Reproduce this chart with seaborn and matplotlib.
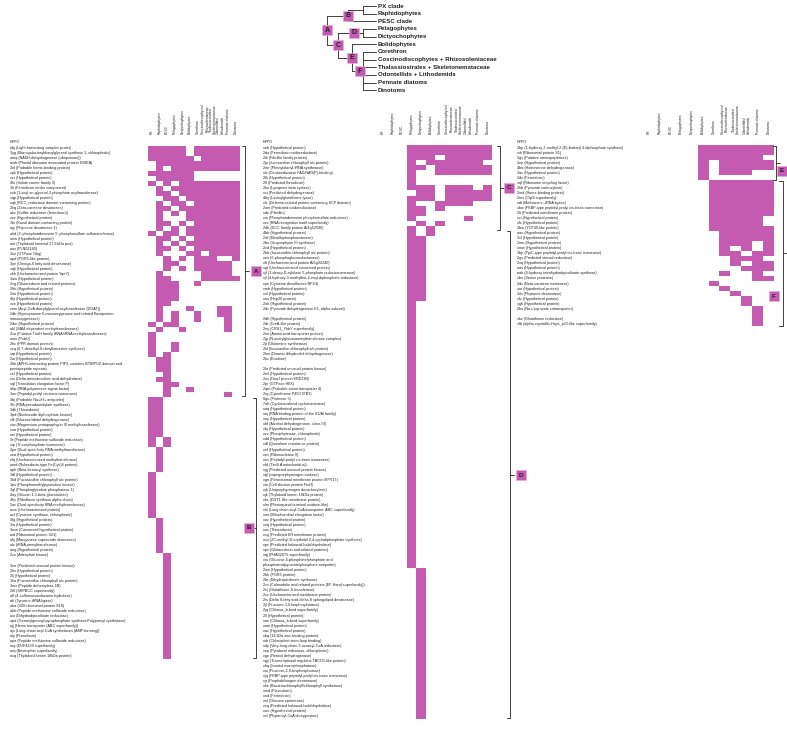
import numpy as np
import pandas as pd
import matplotlib
matplotlib.use("Agg")
import matplotlib.pyplot as plt
import seaborn as sns
from matplotlib.colors import ListedColormap
from matplotlib.transforms import blended_transform_factory

# ---------------- data ----------------
clades = ["PX", "Raphidophytes", "PESC", "Pelagophytes", "Dictyochophytes",
          "Bolidophytes", "Corethron", "Coscinodiscophytes/\nRhizosoleniaceae",
          "Thalassiosirales/\nSkeletonemataceae", "Odontellids/\nLithodemids",
          "Pennate diatoms", "Dinotoms"]

tree_leaves = ["PX clade", "Raphidophytes", "PESC clade", "Pelagophytes",
               "Dictyochophytes", "Bolidophytes", "Corethron",
               "Coscinodiscophytes + Rhizosoleniaceae",
               "Thalassiosirales + Skeletonemataceae",
               "Odontellids + Lithodemids", "Pennate diatoms", "Dinotoms"]

# (node, children, x of vertical line, x of label box, letter)
tree_nodes = [
    ("pr", ["PX clade", "Raphidophytes"], 363, None, ""),
    ("B", ["pr", "PESC clade"], 348, 348, "B"),
    ("D", ["Pelagophytes", "Dictyochophytes"], 363, 354, "D"),
    ("F", ["Corethron", "Coscinodiscophytes + Rhizosoleniaceae",
           "Thalassiosirales + Skeletonemataceae", "Odontellids + Lithodemids",
           "Pennate diatoms", "Dinotoms"], 363, 360, "F"),
    ("E", ["Bolidophytes", "F"], 352, 352, "E"),
    ("C", ["D", "E"], 338, 338, "C"),
    ("A", ["B", "C"], 327, 327, "A"),
]

p1_genes = [
    "abj (Light-harvesting complex protei)",
    "3yg (Monogalactosyldiacylglycerol synthase 1, chloroplastic)",
    "amq (NADH-dehydrogenase (ubiquinone))",
    "amb (Plastid ribosome associated protein 830EA)",
    "3ol (Probable heme-binding protein)",
    "xpk (Hypothetical protein)",
    "xcr (Hypothetical protein)",
    "4hi (Solute carrier family 3)",
    "3it (Ferredoxin rieske component)",
    "zxb (1-acyl-sn-glycerol-3-phosphate acyltransferase)",
    "xqp (Hypothetical protein)",
    "xqk (RCC_reductase domain-containing protein)",
    "2kq (Zeta-carotene desaturase)",
    "akc (Sulfite reductase (ferredoxin))",
    "xzv (Hypothetical protein)",
    "3kr (Kazal domain containing protein)",
    "ajy (Phytoene desaturase 1)",
    "akd (3'-phosphoadenosine 5'-phosphosulfate sulfotransferase)",
    "anw (Hypothetical protein)",
    "ant (Thylakoid lumenal 17.9 kDa prot)",
    "aox (PLN02160)",
    "3oz (GTPase Obg)",
    "apd (PGR5-like protein)",
    "3ye (Omega-6 fatty acid desaturase)",
    "xqk (Hypothetical protein)",
    "zkh (Uncharacterized protein YqeY)",
    "3aw (Hypothetical protein)",
    "2cg (Glutaredoxin and related proteins)",
    "2hh (Hypothetical protein)",
    "2im (Hypothetical protein)",
    "4fy (Hypothetical protein)",
    "xce (Hypothetical protein)",
    "zom (Acyl-CoA:diacylglycerol acyltransferase (DGAT))",
    "2db (Hyoscyamine 6-monooxygenase and related flavoprotein",
    "monooxygenases)",
    "2dm (Hypothetical protein)",
    "akl (SAM-dependent methyltransferases)",
    "2co (Putative TrmH family tRNA/rRNA methyltransferases)",
    "amo (PsbU)",
    "2hc (PPR domain protein)",
    "xcq (6,7-dimethyl-8-ribityllumazine synthase)",
    "xqt (Hypothetical protein)",
    "2ai (Hypothetical protein)",
    "2bk (APH1-interacting protein PIP3, contains BTB/POZ domain and",
    "pentapeptide repeats)",
    "xcf (Hypothetical protein)",
    "zin (Delta-aminolevulinic acid dehydratase)",
    "xql (Translation elongation factor P)",
    "ahp (RNA polymerase sigma factor)",
    "3an (Peptidyl-prolyl cis-trans isomerase)",
    "3bj (Probable Na+/H+ antiporter)",
    "3lv (RNA pseudouridylate synthase)",
    "3dk (Thioredoxin)",
    "3pd (Nucleoside diphosphate kinase)",
    "xlk (Glucose/ribitol dehydrogenase)",
    "xiw (Magnesium-protoporphyrin IX methyltransferase)",
    "xoa (Hypothetical protein)",
    "xei (Hypothetical protein)",
    "3r (Peptide methionine sulfoxide reductase)",
    "xip (Triosephosphate isomerase)",
    "2pe (Dual-specificity RNA methyltransferase)",
    "xea (Hypothetical protein)",
    "zfq (Uncharacterized methyltransferase)",
    "amd (Rubredoxin-type Fe(Cys)4 protein)",
    "aph (Beta-ketoacyl synthase)",
    "3dl (Hypothetical protein)",
    "3kd (Fucoxanthin chlorophyll a/c protein)",
    "3ps (Phosphomethylpyrimidine kinase)",
    "3ql (Phosphoglycolate phosphatase 1)",
    "4ay (Glucan 1,3-beta-glucosidase)",
    "4hc (Riboflavin synthase alpha chain)",
    "5ac (Dual-specificity RNA methyltransferase)",
    "acw (Uncharacterized protein)",
    "acl (Cysteine synthase, chloroplastic)",
    "3fg (Hypothetical protein)",
    "3io (Hypothetical protein)",
    "3mw (Conserved hypothetical protein)",
    "aid (Ribosomal protein S21)",
    "akj (Manganese superoxide dismutase)",
    "alc (tRNA prenyltransferase)",
    "ang (Hypothetical protein)",
    "2cs (Adenylate kinase)",
    "",
    "3ee (Predicted unusual protein kinase)",
    "2hx (Hypothetical protein)",
    "3lj (Hypothetical protein)",
    "3ka (Fucoxanthin chlorophyll a/c protein)",
    "3mx (Peptide deformylase 1B)",
    "2rll (SRPBCC superfamily)",
    "afl (4-sulfomuconolactone hydrolase)",
    "afi (Tyrosine-tRNA ligase)",
    "aha (30S ribosomal protein S18)",
    "ahb (Peptide methionine sulfoxide reductase)",
    "aio (Dihydrodipicolinate reductase)",
    "apd (Geranylgeranyl pyrophosphate synthase/Polyprenyl synthetase)",
    "ajj (Heme transporter (ABC superfamily))",
    "ajx (Long-chain acyl-CoA synthetases (AMP-forming))",
    "aly (Prenelosin)",
    "apa (Peptide methionine sulfoxide reductase)",
    "arg (DUF4239 superfamily)",
    "arq (Bestrophin superfamily)",
    "asq (Thylakoid lumen 18kDa protein)",
]

p1_presence = [
    "111110111111", "111110111111", "111111011111", "011111111111", "010111111111",
    "111111000000", "011111000000", "101011111111", "010111111111", "011011111111",
    "001101111111", "010110111111", "011011111111", "010101111111", "010001111111",
    "011010111111", "010101111111", "101101111111", "011010111111", "010101111111",
    "011010111111", "010001101111", "001010111001", "001100111110", "001010111110",
    "010000011110", "011000011111", "011100100000", "011100000000", "011100000000",
    "011100000000", "011000000000", "010001000110", "010100100110", "010100100010",
    "101100000010", "010010000010", "100000000000", "100000000000", "100100000000",
    "100100000000", "101000000000", "011000000000", "011000000000", "011000000000",
    "001000000000", "011000000000", "001100000000", "001001000000", "001000000010",
    "110000000000", "110000000000", "110000000000", "110000000000", "110000000000",
    "110000000000", "110000000000", "110000000000", "101000000000", "101000000000",
    "010000000000", "010000000000", "010000000000", "010000000000", "010000000000",
    "100000000000", "100000000000", "100000000000", "100000000000", "100000000000",
    "100000000000", "100000000000", "100000000000", "100000000000",
    "010000000000", "010000000000", "010000000000", "010000000000", "010000000000",
    "010000000000", "010000000000",
    "001000000000", "001000000000", "001000000000", "001000000000", "001000000000",
    "001000000000", "001000000000", "001000000000", "001000000000", "001000000000",
    "001000000000", "001000000000", "001000000000", "001000000000", "001000000000",
    "001000000000", "001000000000", "001000000000", "001000000000", "001000000000",
    "001000000000",
]

p2_genes = [
    "xeb (Hypothetical protein)",
    "2do (Ferredoxin oxidoreductase)",
    "2ik (Fibrillin family protein)",
    "2ja (fucoxanthin chlorophyll a/c protein)",
    "2mr (Phenylalanyl-tRNA synthetase)",
    "xlx (Oxidoreductase FAD/NAD(P)-binding)",
    "2fk (Hypothetical protein)",
    "2fl (Predicted flavodoxin)",
    "2kn (Lycopene beta cyclase)",
    "xcj (Predicted dehydrogenase)",
    "4by (Lactoylglutathione lyase)",
    "xlc (Defense-related protein containing SCP domain)",
    "2om (Predicted oxidoreductase)",
    "xde (Fibrillin)",
    "xin (Phosphoadenosine phosphosulfate reductase)",
    "xzv (RNA recognition motif superfamily)",
    "2dh (DCC family protein At1g52590)",
    "4bb (Hypothetical protein)",
    "2af (Metallophosphoesterase)",
    "2be (Uroporphyrin III synthase)",
    "2cd (Hypothetical protein)",
    "2hb (fucoxanthin chlorophyll a/c protein)",
    "xen (6-phosphogluconolactonase)",
    "xft (Uncharacterized protein At5g02240)",
    "xgt (Uncharacterized conserved protein)",
    "xjf (1-deoxy-D-xylulose 5-phosphate reductoisomerase)",
    "xjl (4-hydroxy-3-methylbut-2-enyl diphosphate reductase)",
    "xjm (Cysteine desulfurase NFS1)",
    "xmb (Hypothetical protein)",
    "xnl (Hypothetical protein)",
    "xau (Hsp20 protein)",
    "2ah (Hypothetical protein)",
    "2dc (Pyruvate dehydrogenase E1, alpha subunit)",
    "",
    "2dh (Hypothetical protein)",
    "2dr (CreA-like protein)",
    "2ey (CRS1_YhbY superfamily)",
    "2im (Amino acid transporter protein)",
    "2jp (N-acetylglucosaminyltransferase complex)",
    "2jt (Glutamine synthetase)",
    "2kl (fucoxanthin chlorophyll a/c protein)",
    "2km (Dimeric dihydrodiol dehydrogenase)",
    "2kc (Enolase)",
    "",
    "2la (Predicted unusual protein kinase)",
    "2ml (Hypothetical protein)",
    "2ns (DnaJ protein ERDJ3B)",
    "2pr (GTPase HflX)",
    "2qm (Probable anion transporter 4)",
    "2rg (Cytochrome P450 97B3)",
    "6gu (Protease 3)",
    "7ah (Cycloeucalenol cycloisomerase)",
    "xaq (Hypothetical protein)",
    "xaj (RNA binding protein of the S1/Al family)",
    "xay (Hypothetical protein)",
    "xbf (Alcohol dehydrogenase, class III)",
    "xbj (Hypothetical protein)",
    "xcv (Pheophytinase, chloroplastic)",
    "xdd (Hypothetical protein)",
    "xdl (Quinolone resistance protein)",
    "xef (Hypothetical protein)",
    "xev (Ribonuclease II)",
    "xex (Peptidyl-prolyl cis-trans isomerase)",
    "xfd (Tim9-A mitochondrial)",
    "xgj (Predicted unusual protein kinase)",
    "xgl (coproporphyrinogen oxidase)",
    "xgn (Peroxisomal membrane protein MPV17)",
    "xia (Cell division protein FtsH)",
    "xjh (Uroporphyrinogen decarboxylase)",
    "xjk (Thylakoid lumen 18kDa protein)",
    "xkc (DDT1-like membrane protein)",
    "xlm (Plastoquinol terminal oxidase-like)",
    "xln (Long chain acyl-CoA transporter, ABC superfamily)",
    "xmr (Mitochondrial elongation factor)",
    "xoc (Hypothetical protein)",
    "xoq (Hypothetical protein)",
    "xos (Thioredoxin)",
    "xsg (Predicted ER membrane protein)",
    "xsu (2C-methyl-D-erythritol 2,4-cyclodiphosphate synthase)",
    "xpc (Predicted haloacid-halidohydrolase)",
    "xpz (Glutaredoxin and related proteins)",
    "xqj (PHA02075 superfamily)",
    "xru (Glucose-6-phosphate/phosphate and",
    "phosphoenolpyruvate/phosphate antiporter)",
    "2aw (Hypothetical protein)",
    "2bh (PGR5 protein)",
    "2br (Dihydropicolinate synthase)",
    "2cs (Calmodulin and related proteins (EF-Hand superfamily))",
    "2cj (Glutathione S-transferase)",
    "2cz (Uncharacterized membrane protein)",
    "2is (Delta 8-fatty acid /delta-8 sphingolipid desaturase)",
    "2jl (Fructose-1,6-bisphosphatase)",
    "2jq (Chloroa_b-bind superfamily)",
    "2ll (Hypothetical protein)",
    "xae (Chloroa_b-bind superfamily)",
    "xam (Hypothetical protein)",
    "xac (Hypothetical protein)",
    "xbq (14 kDa zinc-binding protein)",
    "xdr (Chloroplast stem-loop binding)",
    "xdy (Very-long-chain 3-oxoacyl-CoA reductase)",
    "xep (Pyridoxal reductase, chloroplastic)",
    "xge (Retinol dehydrogenase)",
    "xgy (Transcriptional regulator TACO1-like protein)",
    "xhq (Inositol monophosphatase)",
    "xio (Fructose-1,6-bisphosphatase)",
    "xjq (FKBP-type peptidyl-prolyl cis-trans isomerase)",
    "xjr (Porphobilinogen deaminase)",
    "xke (Bacteriochlorophyll/chlorophyll synthetase)",
    "xmd (Flavodoxin)",
    "xnd (Ferredoxin)",
    "xnl (Glucose epimerase)",
    "xsq (Predicted haloacid-halidohydrolase)",
    "xwc (Hypothetical protein)",
    "xxl (Phytanoyl-CoA dioxygenase)",
]

p2_presence = [
    "000111111111", "000111111111", "000111011111", "000101111110", "000110111111",
    "000100111111", "000100000000", "000100000000", "000111011101", "000011011111",
    "000111011111", "000100111100", "000110100000", "000110000000", "000100000100",
    "000010100000", "000101000000",
    "000101000000",
    "000110000000", "000110000000", "000110000000", "000110000000", "000110000000",
    "000110000000", "000110000000", "000110000000", "000110000000", "000110000000",
    "000110000000", "000110000000", "000110000000",
    "000100000000", "000100000000", "000100000000", "000100000000", "000100000000",
    "000100000000", "000100000000", "000100000000", "000100000000", "000100000000",
    "000100000000", "000100000000", "000100000000", "000100000000", "000100000000",
    "000100000000", "000100000000", "000100000000", "000100000000", "000100000000",
    "000100000000", "000100000000", "000100000000", "000100000000", "000100000000",
    "000100000000", "000100000000", "000100000000", "000100000000", "000100000000",
    "000100000000", "000100000000", "000100000000", "000100000000", "000100000000",
    "000100000000", "000100000000", "000100000000", "000100000000", "000100000000",
    "000100000000", "000100000000", "000100000000", "000100000000", "000100000000",
    "000100000000", "000100000000", "000100000000", "000100000000", "000100000000",
    "000100000000", "000100000000", "000100000000",
    "000010000000", "000010000000", "000010000000", "000010000000", "000010000000",
    "000010000000", "000010000000", "000010000000", "000010000000", "000010000000",
    "000010000000", "000010000000", "000010000000", "000010000000", "000010000000",
    "000010000000", "000010000000", "000010000000", "000010000000", "000010000000",
    "000010000000", "000010000000", "000010000000", "000010000000", "000010000000",
    "000010000000", "000010000000", "000010000000", "000010000000", "000010000000",
]

p3_genes = [
    "2bp (1-hydroxy-2-methyl-2-(E)-butenyl 4-diphosphate synthase)",
    "xih (Ribosomal protein S1)",
    "2gs (Putative aminopeptidase)",
    "2ep (Hypothetical protein)",
    "4ba (Homoserine dehydrogenase)",
    "3ac (Hypothetical protein)",
    "2dv (Ferredoxin)",
    "xqf (Ribosome recycling factor)",
    "2kb (Pyruvate carboxylase)",
    "2md (Heme-binding protein)",
    "2ms (ClpS superfamily)",
    "xdt (Methionine--tRNA ligase)",
    "xbw (FKBP-type peptidyl-prolyl cis-trans isomerase)",
    "2lt (Predicted membrane protein)",
    "xci (Hypothetical protein)",
    "xfc (Hypothetical protein)",
    "2bw (YCF49-like protein)",
    "aau (Hypothetical protein)",
    "2cl (Hypothetical protein)",
    "2em (Hypothetical protein)",
    "xmw (Hypothetical protein)",
    "3bp (PpiC-type peptidyl-prolyl cis-trans isomerase)",
    "2gs (Predicted steroid reductase)",
    "2xq (Hypothetical protein)",
    "aas (Hypothetical protein)",
    "aab (4-hydroxy-tetrahydrodipicolinate synthase)",
    "xbu (Serine protease)",
    "2dc (Beta-carotene isomerase)",
    "xar (Hypothetical protein)",
    "2rb (Phytoene desaturase)",
    "xfz (Hypothetical protein)",
    "xgk (Hypothetical protein)",
    "2bx (Na+/ pyruvate cotransporter)",
    "",
    "xkz (Glutathione reductase)",
    "xfb (alpha-crystallin-Hsps_p23-like superfamily)",
]

p3_presence = [
    "000001111111", "000001111111", "000001111110", "000001011111", "000001011111",
    "000001011100", "000001000000",
    "000000111111", "000000111111", "000000111111", "000000111111", "000000111111",
    "000000111111", "000000111111", "000000111110", "000000111110", "000000111111",
    "000000011111", "000000011111", "000000011101", "000000010101", "000000011011",
    "000000001110", "000000001011", "000000000111", "000000010010", "000000000011",
    "000000100000", "000000010000", "000000001000", "000000000100", "000000000100",
    "000000000010", "000000000010", "000000000010", "000000000010",
]

# ---------------- style ----------------
sns.set_style("white")
plt.rcParams["font.family"] = ["Liberation Sans", "DejaVu Sans"]
MAGENTA = "#C45BB0"
BOXEDGE = "#E3AEDB"
INK = "#222222"

W, H = 787, 731
PITCH = 5.03

fig = plt.figure(figsize=(W / 100, H / 100), dpi=100)
fig.patch.set_facecolor("white")

# overlay in pixel coordinates for the clade tree
over = fig.add_axes([0, 0, 1, 1])
over.set_xlim(0, W)
over.set_ylim(H, 0)
over.axis("off")
over.patch.set_facecolor("none")

pos = {}
for i, name in enumerate(tree_leaves):
    y = 6 + 7.65 * i
    pos[name] = (376, y)
    over.text(378, y, name, fontsize=4.4, fontweight="bold", color=INK,
              ha="left", va="center")
boxes = []
for name, kids, xline, xbox, letter in tree_nodes:
    ys = [pos[k][1] for k in kids]
    over.plot([xline, xline], [min(ys), max(ys)], color=INK, lw=0.6)
    for k in kids:
        over.plot([xline, pos[k][0]], [pos[k][1], pos[k][1]], color=INK, lw=0.6)
    ymid = (min(ys) + max(ys)) / 2
    pos[name] = (xline, ymid)
    if letter:
        boxes.append((xbox, ymid, letter))
for xb, yb, letter in boxes:
    over.plot([xb], [yb], marker="s", ms=7.5, mfc=MAGENTA, mec=BOXEDGE, mew=0.5, zorder=5)
    over.text(xb, yb, letter, fontsize=5, fontweight="bold", color=INK,
              ha="center", va="center", zorder=6)

cmap = ListedColormap(["white", MAGENTA])


def draw_panel(left, right, top, label_x, genes, presence):
    n = len(genes)
    bottom = top + n * PITCH
    ax = fig.add_axes([left / W, 1 - bottom / H, (right - left) / W, (bottom - top) / H])
    mat = pd.DataFrame([[int(c) for c in p] for p in presence], columns=clades)
    sns.heatmap(mat, ax=ax, cmap=cmap, vmin=0, vmax=1, cbar=False,
                xticklabels=True, yticklabels=True, linewidths=0)
    ax.xaxis.tick_top()
    ax.set_xticks(np.arange(len(clades)) + 0.5)
    ax.set_xticklabels(clades, rotation=90, ha="center", va="bottom",
                       fontsize=2.4, color=INK, linespacing=1.1)
    ax.tick_params(axis="x", length=0, pad=8)
    ax.set_yticks(np.arange(n) + 0.5)
    ax.set_yticklabels(genes, rotation=0, ha="left", fontsize=2.7, color=INK)
    ax.tick_params(axis="y", length=0, pad=(left - label_x) * 0.72)
    ax.set_xlabel("")
    ax.set_ylabel("")
    tr = blended_transform_factory(ax.transAxes, ax.transData)
    ax.text((label_x - left) / (right - left), -0.6, "HPPO", transform=tr,
            fontsize=2.7, color=INK, ha="left", va="center", clip_on=False)
    ax.set_ylim(n, 0)
    return ax


def bracket(ax, left, right, r0, r1, line_x, box_x, box_row, letter, tick_dir):
    w = right - left
    tr = blended_transform_factory(ax.transAxes, ax.transData)
    xl = (line_x - left) / w
    t = 3.5 / w
    kw = dict(color=INK, lw=0.6, transform=tr, clip_on=False)
    ax.plot([xl - t, xl, xl, xl - t], [r0 + 0.15, r0 + 0.15, r1 - 0.15, r1 - 0.15], **kw)
    mid = (r0 + r1) / 2
    ax.plot([xl, xl + tick_dir * t], [mid, mid], **kw)
    xb = (box_x - left) / w
    ax.plot([xb], [box_row], marker="s", ms=6.5, mfc=MAGENTA, mec=BOXEDGE, mew=0.5,
            transform=tr, clip_on=False, zorder=5)
    ax.text(xb, box_row, letter, transform=tr, fontsize=4.5, fontweight="bold",
            color=INK, ha="center", va="center", clip_on=False, zorder=6)


ax1 = draw_panel(148, 239.5, 145.5, 10, p1_genes, p1_presence)
bracket(ax1, 148, 239.5, 0, 50, 245, 256, 25, "A", 1)
bracket(ax1, 148, 239.5, 50, 102, 256, 248.7, 76, "B", -1)

ax2 = draw_panel(378, 492.3, 145.2, 263, p2_genes, p2_presence)
bracket(ax2, 378, 492.3, 0, 17, 500, 509, 8.5, "C", 1)
bracket(ax2, 378, 492.3, 17, 114, 510, 521, 65.6, "D", 1)

ax3 = draw_panel(643, 774, 145.2, 517, p3_genes, p3_presence)
bracket(ax3, 643, 774, 0, 7, 776, 781.5, 5.1, "E", 1)
bracket(ax3, 643, 774, 7, 36, 782.7, 774, 30, "F", 1)

fig.savefig("out.png", dpi=100, facecolor="white")
